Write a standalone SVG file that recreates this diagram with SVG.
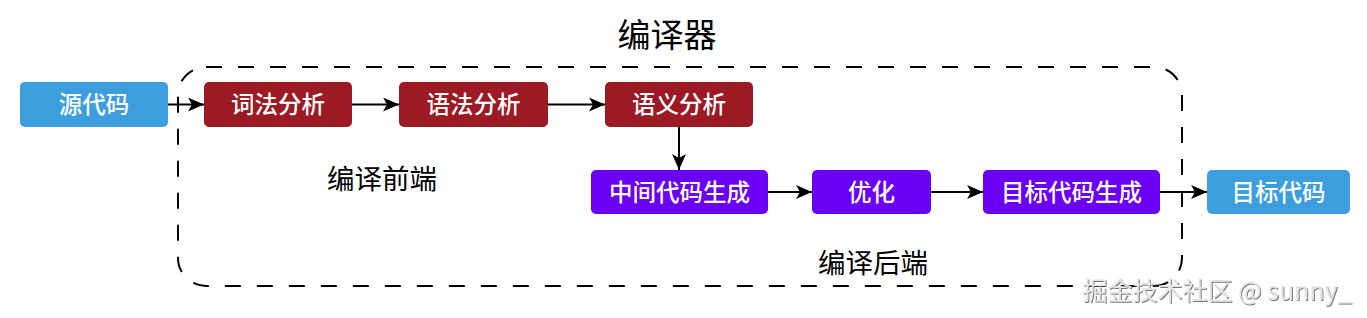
<svg xmlns="http://www.w3.org/2000/svg" width="1367" height="318" viewBox="0 0 1367 318">
<style>
.box{stroke:none}
.blue{fill:#3d9ede}
.red{fill:#9b1a24}
.purple{fill:#6a00f4}
.lbl{font-family:"Noto Sans CJK SC","Noto Sans",sans-serif;font-size:23.5px;font-weight:500;fill:#ffffff;text-anchor:middle}
.cap{font-family:"Noto Sans CJK SC","Noto Sans",sans-serif;fill:#000000;text-anchor:middle}
.edge{stroke:#000;stroke-width:2;fill:none;marker-end:url(#ah)}
</style>
<defs>
<marker id="ah" markerUnits="userSpaceOnUse" markerWidth="17" markerHeight="14" refX="16" refY="7" orient="auto">
<path d="M0,0 L16,7 L0,14 L4,7 Z" fill="#000"/>
</marker>
<filter id="emb" x="-5%" y="-30%" width="110%" height="160%">
<feDropShadow dx="1" dy="1" stdDeviation="0.6" flood-color="#555" flood-opacity="0.8"/>
</filter>
</defs>
<rect width="1367" height="318" fill="#ffffff"/>
<g id="container">
<rect x="178" y="67" width="1004" height="219" rx="28" ry="28" fill="none" stroke="#000" stroke-width="2" stroke-dasharray="16 16"/>
<text class="cap" x="667" y="47" font-size="33">编译器</text>
<text class="cap" x="382" y="189" font-size="27.5">编译前端</text>
<text class="cap" x="873" y="273" font-size="27.5">编译后端</text>
</g>
<g id="connectors">
<line class="edge" x1="168" y1="104.5" x2="204" y2="104.5"/>
<line class="edge" x1="352" y1="104.5" x2="399" y2="104.5"/>
<line class="edge" x1="548" y1="104.5" x2="605" y2="104.5"/>
<line class="edge" x1="679" y1="127" x2="679" y2="170"/>
<line class="edge" x1="768" y1="192" x2="812" y2="192"/>
<line class="edge" x1="931" y1="192" x2="983" y2="192"/>
<line class="edge" x1="1160" y1="192" x2="1207" y2="192"/>
</g>
<g id="n-src"><rect class="box blue" x="20" y="82" width="148" height="45" rx="5"/><text class="lbl" x="94" y="113">源代码</text></g>
<g id="n-lex"><rect class="box red" x="204" y="82" width="148" height="45" rx="5"/><text class="lbl" x="278" y="113">词法分析</text></g>
<g id="n-syn"><rect class="box red" x="399" y="82" width="149" height="45" rx="5"/><text class="lbl" x="473.5" y="113">语法分析</text></g>
<g id="n-sem"><rect class="box red" x="605" y="82" width="148" height="45" rx="5"/><text class="lbl" x="679" y="113">语义分析</text></g>
<g id="n-ir"><rect class="box purple" x="591" y="170" width="177" height="44" rx="5"/><text class="lbl" x="679.5" y="200.5">中间代码生成</text></g>
<g id="n-opt"><rect class="box purple" x="812" y="170" width="119" height="44" rx="5"/><text class="lbl" x="871.5" y="200.5">优化</text></g>
<g id="n-gen"><rect class="box purple" x="983" y="170" width="177" height="44" rx="5"/><text class="lbl" x="1071.5" y="200.5">目标代码生成</text></g>
<g id="n-tgt"><rect class="box blue" x="1207" y="170" width="143" height="44" rx="5"/><text class="lbl" x="1278.5" y="200.5">目标代码</text></g>
<text x="1217" y="300" font-family="&quot;Noto Sans CJK SC&quot;,&quot;Noto Sans&quot;,sans-serif" font-size="25" fill="#e4e4e4" text-anchor="middle" filter="url(#emb)">掘金技术社区 @ sunny_</text>
</svg>
